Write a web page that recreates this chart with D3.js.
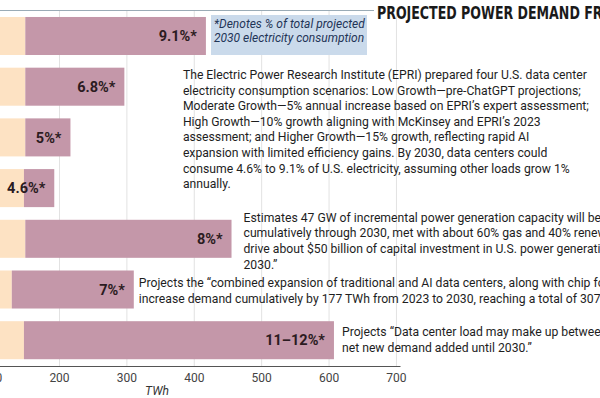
<!DOCTYPE html>
<html>
<head>
<meta charset="utf-8">
<script src="https://cdn.jsdelivr.net/npm/d3@7"></script>
<style>
  body { margin: 0; background: #fff; }
  svg { display: block; }
</style>
</head>
<body>
<div id="chart"></div>
<script>
const w = 600;
const h = 398;

// values, TWh
const scenarios = ['EPRI higher', 'EPRI high', 'EPRI moderate', 'EPRI low', 'Goldman Sachs', 'BCG', 'McKinsey'];
const base2023 = [150, 150, 150, 148, 150, 130, 148];
const total2030 = [418, 297, 217, 193, 456, 311, 608];
const shareLabels = ['9.1%*', '6.8%*', '5%*', '4.6%*', '8%*', '7%*', '11–12%*'];
const tickValues = [100, 200, 300, 400, 500, 600, 700];

const titleText = 'PROJECTED POWER DEMAND FROM DATA CENTERS';
const noteLines = ['*Denotes % of total projected', '2030 electricity consumption'];
const notes = [
  {bar: 0, dx: -23, dy: 62, lines: [
    'The Electric Power Research Institute (EPRI) prepared four U.S. data center',
    'electricity consumption scenarios: Low Growth—pre-ChatGPT projections;',
    'Moderate Growth—5% annual increase based on EPRI’s expert assessment;',
    'High Growth—10% growth aligning with McKinsey and EPRI’s 2023',
    'assessment; and Higher Growth—15% growth, reflecting rapid AI',
    'expansion with limited efficiency gains. By 2030, data centers could',
    'consume 4.6% to 9.1% of U.S. electricity, assuming other loads grow 1%',
    'annually.'
  ]},
  {bar: 4, dx: 12, dy: 2, lines: [
    'Estimates 47 GW of incremental power generation capacity will be required',
    'cumulatively through 2030, met with about 60% gas and 40% renewables, and',
    'drive about $50 billion of capital investment in U.S. power generation through',
    '2030.”'
  ]},
  {bar: 5, dx: 5, dy: 17, lines: [
    'Projects the “combined expansion of traditional and AI data centers, along with chip foundries, will',
    'increase demand cumulatively by 177 TWh from 2023 to 2030, reaching a total of 307 TWh.”'
  ]},
  {bar: 6, dx: 8, dy: 15, lines: [
    'Projects “Data center load may make up between 30 and 40 percent of all',
    'net new demand added until 2030.”'
  ]}
];

const bodyFont = 'Roboto, "Open Sans", sans-serif';
const bodySize = 12.2;
const axisY = 366;

const x = d3.scaleLinear()
  .domain([0, 706])
  .range([-75.8, 400]);

const y = d3.scaleBand()
  .domain(d3.range(scenarios.length))
  .range([4.3, 371.9])
  .paddingInner(0.25)
  .paddingOuter(0.25);

const svg = d3.select('#chart')
  .append('svg')
  .attr('width', w)
  .attr('height', h);

// grid
svg.append('g')
  .attr('transform', `translate(0,${axisY})`)
  .call(d3.axisBottom(x).tickValues(tickValues).tickSize(-(axisY - 10)).tickFormat(''))
  .call(g => g.select('.domain').remove())
  .call(g => g.selectAll('line').attr('stroke', '#e2e2e2'));

// top rule and title
svg.append('line')
  .attr('x1', 0).attr('x2', 374)
  .attr('y1', 10.5).attr('y2', 10.5)
  .attr('stroke', '#9aabb6');

svg.append('text')
  .attr('transform', 'translate(377,19) scale(0.8,1)')
  .attr('font-family', '"Liberation Sans Narrow", "DejaVu Sans Condensed", sans-serif')
  .attr('font-stretch', 'condensed')
  .attr('font-weight', 'bold')
  .attr('font-size', 17.5)
  .attr('fill', '#1a1a1a')
  .text(titleText);

// bars: 2023 part then growth to 2030
const bars = svg.append('g');
bars.selectAll('rect.base')
  .data(base2023)
  .enter()
  .append('rect')
  .attr('class', 'base')
  .attr('x', x(0))
  .attr('y', (d, i) => y(i))
  .attr('width', d => x(d) - x(0))
  .attr('height', y.bandwidth())
  .attr('fill', '#fde2c3');

bars.selectAll('rect.growth')
  .data(total2030)
  .enter()
  .append('rect')
  .attr('class', 'growth')
  .attr('x', (d, i) => x(base2023[i]))
  .attr('y', (d, i) => y(i))
  .attr('width', (d, i) => x(d) - x(base2023[i]))
  .attr('height', y.bandwidth())
  .attr('fill', '#c497a9');

bars.selectAll('text')
  .data(shareLabels)
  .enter()
  .append('text')
  .attr('x', (d, i) => x(total2030[i]) - 9)
  .attr('y', (d, i) => y(i) + y.bandwidth() / 2)
  .attr('dy', '0.36em')
  .attr('text-anchor', 'end')
  .attr('font-family', bodyFont)
  .attr('font-weight', 'bold')
  .attr('font-size', 14.5)
  .attr('fill', '#2b1b21')
  .text(d => d);

// footnote box
svg.append('rect')
  .attr('x', 211).attr('y', 15)
  .attr('width', 156).attr('height', 40)
  .attr('fill', '#cadaeb');

svg.append('g')
  .selectAll('text')
  .data(noteLines)
  .enter()
  .append('text')
  .attr('x', 214)
  .attr('y', (d, i) => 27.5 + i * 14.5)
  .attr('font-family', bodyFont)
  .attr('font-style', 'italic')
  .attr('font-size', 12)
  .attr('fill', '#1f3557')
  .text(d => d);

// annotations next to bars
notes.forEach(n => {
  const x0 = x(total2030[n.bar]) + n.dx;
  const y0 = y(n.bar) + n.dy;
  svg.append('g')
    .selectAll('text')
    .data(n.lines)
    .enter()
    .append('text')
    .attr('x', x0)
    .attr('y', (d, i) => y0 + i * 15.6)
    .attr('font-family', bodyFont)
    .attr('font-size', bodySize)
    .attr('fill', '#1e1e1e')
    .text(d => d);
});

// x axis
svg.append('g')
  .attr('transform', `translate(0,${axisY})`)
  .call(d3.axisBottom(x).tickValues(tickValues).tickSize(0).tickPadding(7))
  .call(g => g.select('.domain').attr('stroke', '#555'))
  .call(g => g.selectAll('text')
    .attr('font-family', bodyFont)
    .attr('font-size', 12)
    .attr('fill', '#444'));

svg.append('text')
  .attr('x', 157)
  .attr('y', 395)
  .attr('text-anchor', 'middle')
  .attr('font-family', bodyFont)
  .attr('font-style', 'italic')
  .attr('font-size', 12)
  .attr('fill', '#333')
  .text('TWh');
</script>
</body>
</html>
